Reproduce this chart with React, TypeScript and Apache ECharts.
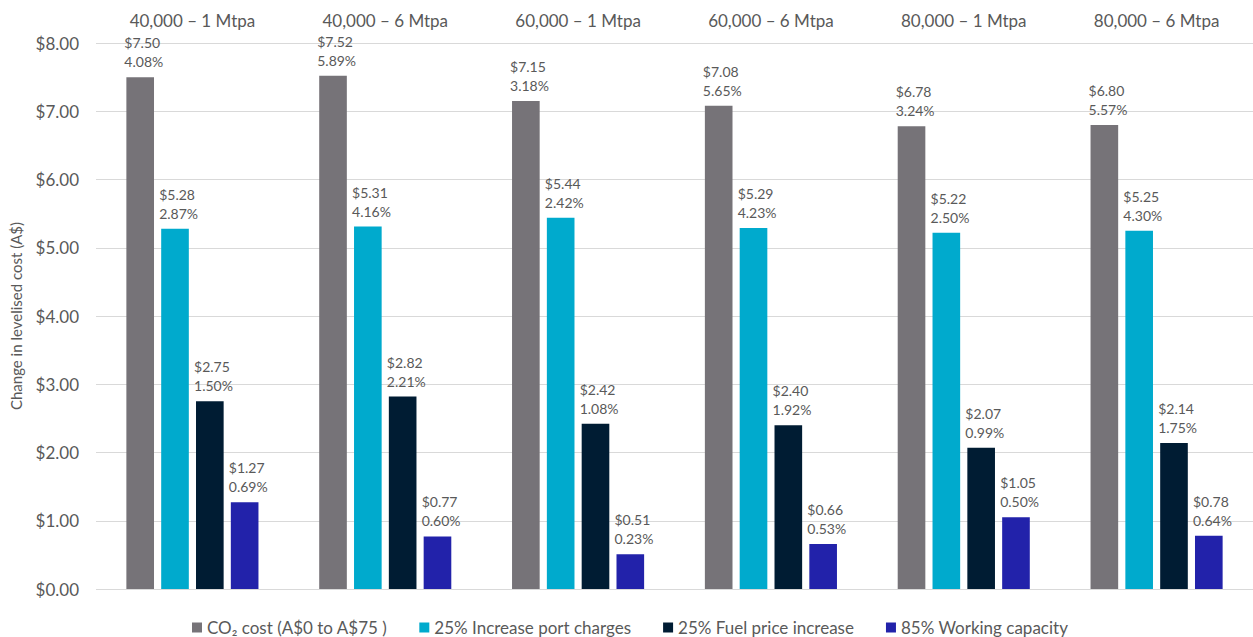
import React, { useEffect, useRef } from "react";
import * as echarts from "echarts";

const categories = [
  "40,000 – 1 Mtpa",
  "40,000 – 6 Mtpa",
  "60,000 – 1 Mtpa",
  "60,000 – 6 Mtpa",
  "80,000 – 1 Mtpa",
  "80,000 – 6 Mtpa",
];

const seriesNames = [
  "CO₂ cost (A$0 to A$75 )",
  "25% Increase port charges",
  "25% Fuel price increase",
  "85% Working capacity",
];

const co2Values = [7.5, 7.52, 7.15, 7.08, 6.78, 6.8];
const co2Pct = ["4.08%", "5.89%", "3.18%", "5.65%", "3.24%", "5.57%"];
const portValues = [5.28, 5.31, 5.44, 5.29, 5.22, 5.25];
const portPct = ["2.87%", "4.16%", "2.42%", "4.23%", "2.50%", "4.30%"];
const fuelValues = [2.75, 2.82, 2.42, 2.4, 2.07, 2.14];
const fuelPct = ["1.50%", "2.21%", "1.08%", "1.92%", "0.99%", "1.75%"];
const workValues = [1.27, 0.77, 0.51, 0.66, 1.05, 0.78];
const workPct = ["0.69%", "0.60%", "0.23%", "0.53%", "0.50%", "0.64%"];

const colors = ["#767378", "#00AACD", "#001C33", "#2222AA"];

const FONT = "Lato, 'Noto Sans', sans-serif";
const TEXT = "#595959";

export default function App() {
  const ref = useRef<HTMLDivElement>(null);
  useEffect(() => {
    if (!ref.current) return;
    const chart = echarts.init(ref.current, undefined, { renderer: "svg" });
    const values = [co2Values, portValues, fuelValues, workValues];
    const pcts = [co2Pct, portPct, fuelPct, workPct];
    chart.setOption({
      animation: false,
      textStyle: { fontFamily: FONT },
      grid: { left: 93, right: -4, top: 43, bottom: 48, containLabel: false },
      legend: {
        top: 614,
        left: 187,
        icon: "rect",
        itemWidth: 10,
        itemHeight: 10,
        itemGap: 32,
        textStyle: { color: TEXT, fontSize: 17, fontFamily: FONT },
        data: seriesNames,
      },
      xAxis: {
        type: "category",
        position: "top",
        data: categories,
        axisLine: { show: false },
        axisTick: { show: false },
        axisLabel: { color: TEXT, fontSize: 17, margin: 14, fontFamily: FONT },
      },
      yAxis: {
        type: "value",
        min: 0,
        max: 8,
        interval: 1,
        name: "Change in levelised cost (A$)",
        nameLocation: "middle",
        nameRotate: 90,
        nameGap: 73,
        nameTextStyle: { color: TEXT, fontSize: 15, fontFamily: FONT },
        axisLine: { show: false },
        axisTick: { show: false },
        axisLabel: {
          color: TEXT,
          fontSize: 17,
          margin: 17,
          fontFamily: FONT,
          formatter: (v: number) => "$" + v.toFixed(2),
        },
        splitLine: { lineStyle: { color: "#D9D9D9", width: 1 } },
      },
      series: seriesNames.map((name, i) => ({
        name,
        type: "bar",
        data: values[i],
        barGap: "26%",
        barCategoryGap: "31.5%",
        itemStyle: { color: colors[i] },
        label: {
          show: true,
          position: [-2, -6],
          align: "left",
          verticalAlign: "bottom",
          color: TEXT,
          fontSize: 14,
          lineHeight: 19,
          fontFamily: FONT,
          formatter: (p: any) => "$" + (p.value as number).toFixed(2) + "\n" + pcts[i][p.dataIndex],
        },
      })),
    });
    return () => chart.dispose();
  }, []);
  return (
    <div
      ref={ref}
      style={{ position: "absolute", left: 0, top: 0, width: 1253, height: 637 }}
    />
  );
}
